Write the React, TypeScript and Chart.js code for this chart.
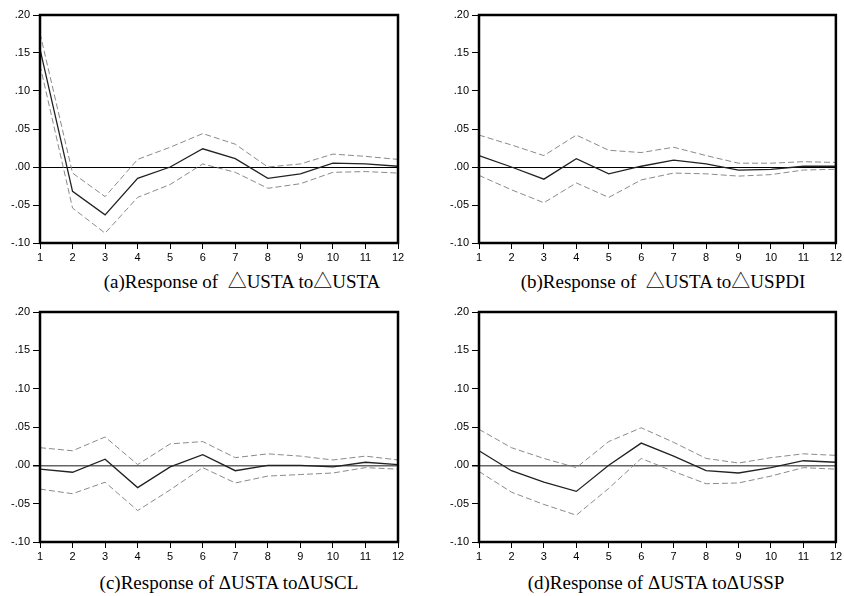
import React, { useEffect, useRef } from "react";
import { Chart, registerables } from "chart.js";

Chart.register(...registerables);

const PERIODS = ["1", "2", "3", "4", "5", "6", "7", "8", "9", "10", "11", "12"];

// (a) Response of ΔUSTA to ΔUSTA
const A_RESP = [0.155, -0.032, -0.063, -0.015, 0.0, 0.024, 0.011, -0.015, -0.009, 0.005, 0.004, 0.001];
const A_UPPER = [0.176, -0.008, -0.039, 0.01, 0.026, 0.044, 0.03, 0.0, 0.004, 0.017, 0.014, 0.01];
const A_LOWER = [0.134, -0.054, -0.087, -0.04, -0.023, 0.004, -0.007, -0.028, -0.022, -0.007, -0.006, -0.008];

// (b) Response of ΔUSTA to ΔUSPDI
const B_RESP = [0.015, 0.0, -0.016, 0.011, -0.009, 0.001, 0.009, 0.004, -0.004, -0.003, 0.001, 0.001];
const B_UPPER = [0.042, 0.029, 0.015, 0.042, 0.022, 0.019, 0.026, 0.015, 0.005, 0.005, 0.007, 0.006];
const B_LOWER = [-0.011, -0.03, -0.047, -0.021, -0.04, -0.017, -0.008, -0.009, -0.012, -0.01, -0.004, -0.003];

// (c) Response of ΔUSTA to ΔUSCL
const C_RESP = [-0.005, -0.009, 0.008, -0.029, -0.002, 0.014, -0.007, 0.0, 0.0, -0.002, 0.004, 0.001];
const C_UPPER = [0.023, 0.019, 0.037, 0.001, 0.028, 0.031, 0.01, 0.015, 0.012, 0.007, 0.012, 0.007];
const C_LOWER = [-0.031, -0.037, -0.022, -0.059, -0.032, -0.003, -0.023, -0.014, -0.012, -0.01, -0.003, -0.005];

// (d) Response of ΔUSTA to ΔUSSP
const D_RESP = [0.019, -0.007, -0.022, -0.034, 0.0, 0.029, 0.012, -0.007, -0.01, -0.003, 0.006, 0.004];
const D_UPPER = [0.047, 0.023, 0.009, -0.003, 0.031, 0.049, 0.03, 0.009, 0.003, 0.01, 0.015, 0.013];
const D_LOWER = [-0.008, -0.035, -0.051, -0.065, -0.03, 0.009, -0.008, -0.024, -0.023, -0.014, -0.003, -0.005];

const Y_MIN = -0.1;
const Y_MAX = 0.2;
const Y_STEP = 0.05;

const CAPTIONS = [
  "(a)Response of  △USTA to△USTA",
  "(b)Response of  △USTA to△USPDI",
  "(c)Response of ΔUSTA toΔUSCL",
  "(d)Response of ΔUSTA toΔUSSP",
];

function fmtTick(v: number): string {
  if (Math.abs(v) < 1e-9) return ".00";
  const s = Math.abs(v).toFixed(2).replace(/^0/, "");
  return (v < 0 ? "-" : "") + s;
}

const framePlugin = {
  id: "frame",
  afterDatasetsDraw(chart: any) {
    const { ctx, chartArea } = chart;
    ctx.save();
    ctx.strokeStyle = "#000";
    ctx.lineWidth = 2.5;
    ctx.strokeRect(chartArea.left, chartArea.top, chartArea.right - chartArea.left, chartArea.bottom - chartArea.top);
    ctx.restore();
  },
};

type PanelProps = {
  left: number;
  top: number;
  width: number;
  height: number;
  padRight: number;
  resp: number[];
  upper: number[];
  lower: number[];
  zeroColor: string;
  zeroWidth: number;
};

function Panel(p: PanelProps) {
  const ref = useRef<HTMLCanvasElement | null>(null);
  useEffect(() => {
    if (!ref.current) return;
    const tickFont = { family: "'Liberation Sans', Arial, sans-serif", size: 11 };
    const chart = new Chart(ref.current, {
      type: "line",
      data: {
        labels: PERIODS,
        datasets: [
          { data: p.upper, borderColor: "#8a8a8a", borderWidth: 1, borderDash: [6, 3], pointRadius: 0, tension: 0 },
          { data: p.lower, borderColor: "#8a8a8a", borderWidth: 1, borderDash: [6, 3], pointRadius: 0, tension: 0 },
          { data: p.resp, borderColor: "#222", borderWidth: 1.3, pointRadius: 0, tension: 0 },
        ],
      },
      options: {
        animation: false,
        responsive: false,
        events: [],
        layout: { padding: { top: 15, right: p.padRight, left: 0, bottom: 0 } },
        plugins: { legend: { display: false }, tooltip: { enabled: false }, title: { display: false } },
        scales: {
          x: {
            type: "category",
            offset: false,
            border: { display: false },
            grid: { drawOnChartArea: false, drawTicks: true, tickLength: 6, tickColor: "#000", lineWidth: 1 },
            ticks: { color: "#000", font: tickFont, padding: 2, autoSkip: false, maxRotation: 0 },
            afterFit: (s: any) => {
              s.height = 27;
            },
          },
          y: {
            min: Y_MIN,
            max: Y_MAX,
            border: { display: false },
            grid: {
              drawOnChartArea: true,
              drawTicks: true,
              tickLength: 7,
              color: (c: any) => (c.tick && Math.abs(c.tick.value) < 1e-9 ? p.zeroColor : "rgba(0,0,0,0)"),
              lineWidth: (c: any) => (c.tick && Math.abs(c.tick.value) < 1e-9 ? p.zeroWidth : 1),
              tickColor: "#000",
            },
            ticks: { stepSize: Y_STEP, color: "#000", font: tickFont, padding: 3, callback: (v: any) => fmtTick(Number(v)) },
            afterFit: (s: any) => {
              s.width = 40;
            },
          },
        },
      },
      plugins: [framePlugin],
    } as any);
    return () => chart.destroy();
  }, []);
  return (
    <canvas
      ref={ref}
      width={p.width}
      height={p.height}
      style={{ position: "absolute", left: p.left, top: p.top, width: p.width, height: p.height }}
    />
  );
}

function Caption({ text, cx, baseline }: { text: string; cx: number; baseline: number }) {
  return (
    <div
      style={{
        position: "absolute",
        left: cx - 200,
        width: 400,
        top: baseline - 16,
        textAlign: "center",
        fontFamily: "'Liberation Serif', 'Noto Sans CJK SC', 'Times New Roman', serif",
        fontSize: 19,
        lineHeight: "19px",
        whiteSpace: "pre",
        color: "#000",
      }}
    >
      {text}
    </div>
  );
}

export default function App() {
  return (
    <div style={{ position: "absolute", left: 0, top: 0, width: 844, height: 596, background: "#fff", overflow: "hidden" }}>
      <Panel left={0} top={0} width={412} height={270} padRight={14} resp={A_RESP} upper={A_UPPER} lower={A_LOWER} zeroColor="#000" zeroWidth={1} />
      <Panel left={439} top={0} width={405} height={270} padRight={6} resp={B_RESP} upper={B_UPPER} lower={B_LOWER} zeroColor="#000" zeroWidth={1} />
      <Panel left={0} top={297} width={412} height={272} padRight={14} resp={C_RESP} upper={C_UPPER} lower={C_LOWER} zeroColor="#666" zeroWidth={1.5} />
      <Panel left={439} top={297} width={405} height={272} padRight={6} resp={D_RESP} upper={D_UPPER} lower={D_LOWER} zeroColor="#666" zeroWidth={1.5} />
      <Caption text={CAPTIONS[0]} cx={242} baseline={288} />
      <Caption text={CAPTIONS[1]} cx={663} baseline={288} />
      <Caption text={CAPTIONS[2]} cx={229} baseline={589} />
      <Caption text={CAPTIONS[3]} cx={656} baseline={589} />
    </div>
  );
}
